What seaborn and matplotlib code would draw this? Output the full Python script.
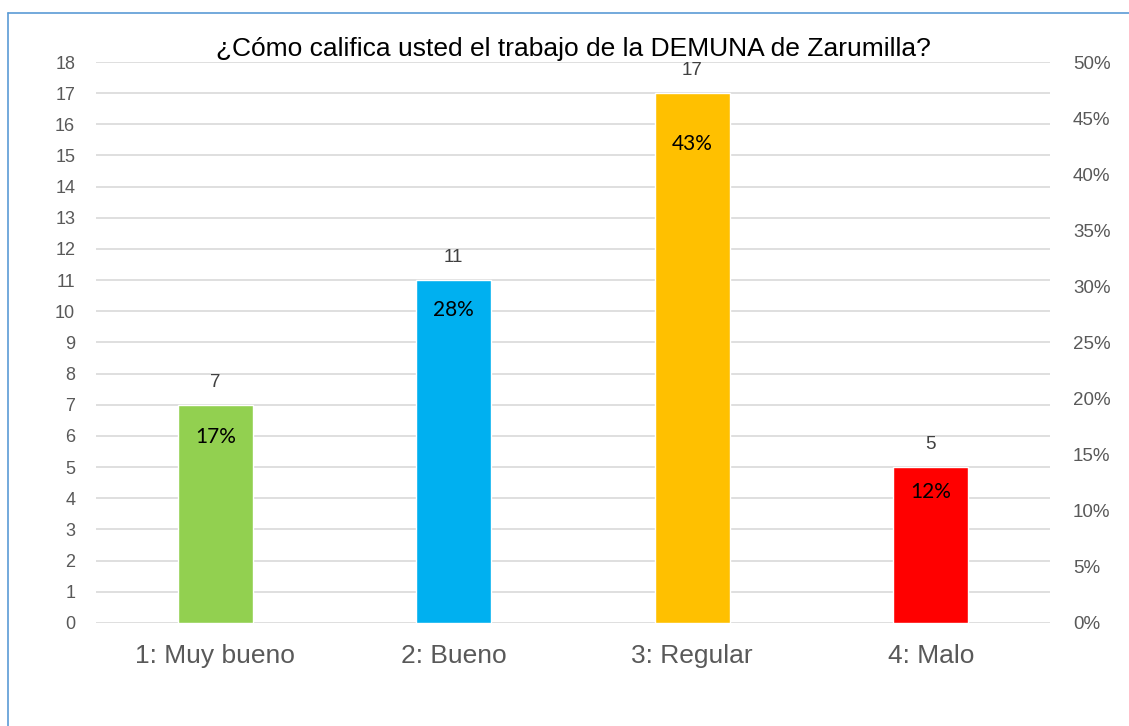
import numpy as np
import pandas as pd
import seaborn as sns
import matplotlib.pyplot as plt
from matplotlib.lines import Line2D
from matplotlib.ticker import PercentFormatter

categorias = ['1: Muy bueno', '2: Bueno', '3: Regular', '4: Malo']
cantidad = [7, 11, 17, 5]
porcentaje = ['17%', '28%', '43%', '12%']
colores = ['#92D050', '#00B0F0', '#FFC000', '#FF0000']

df = pd.DataFrame({'cat': categorias, 'n': cantidad})

# distancia de la etiqueta % bajo el borde de cada barra (como quedó en el original)
desplaz = [1.03, 0.96, 1.63, 0.8]

sns.set_style('white')
plt.rcParams['font.family'] = ['Liberation Sans', 'DejaVu Sans']

fig = plt.figure(figsize=(11.29, 7.26), dpi=100)
ax = fig.add_axes([0.085, 0.1419, 0.845, 0.7727])
sns.barplot(data=df, x='cat', y='n', hue='cat', palette=colores, width=0.314,
            legend=False, ax=ax, saturation=1)

ax.set_ylim(0, 18)
ax.set_yticks(range(0, 19))
ax.set_xlim(-0.5, 3.5)
ax.grid(axis='y', color='#D9D9D9', linewidth=1.2)
ax.set_axisbelow(True)
for s in ax.spines.values():
    s.set_visible(False)
ax.tick_params(axis='y', length=0, labelsize=13, labelcolor='#595959', pad=15)
ax.tick_params(axis='x', length=0, labelsize=19, labelcolor='#595959', pad=15)
ax.set_xlabel('')
ax.set_ylabel('')

ax2 = ax.twinx()
ax2.set_ylim(0, 0.5)
ax2.set_yticks(np.arange(0, 0.51, 0.05))
ax2.yaxis.set_major_formatter(PercentFormatter(1.0, decimals=0))
ax2.tick_params(axis='y', length=0, labelsize=13.5, labelcolor='#595959', pad=16.5)
for s in ax2.spines.values():
    s.set_visible(False)

for i, (n, p) in enumerate(zip(cantidad, porcentaje)):
    ax.text(i, n + 0.72, str(n), ha='center', va='center', fontsize=13.5, color='#404040')
    ax.text(i, n - desplaz[i], p, ha='center', va='center', fontsize=15, color='black',
            family=['Lato', 'DejaVu Sans'])

fig.text(0.508, 0.932, '¿Cómo califica usted el trabajo de la DEMUNA de Zarumilla?',
         ha='center', va='center', fontsize=19, color='black')

# borde del recuadro
fig.add_artist(Line2D([8 / 1129, 8 / 1129], [0, 1 - 13 / 726], color='#5B9BD5', linewidth=1.2))
fig.add_artist(Line2D([8 / 1129, 1], [1 - 13 / 726, 1 - 13 / 726], color='#5B9BD5', linewidth=1.2))

fig.savefig('out.png', dpi=100)
